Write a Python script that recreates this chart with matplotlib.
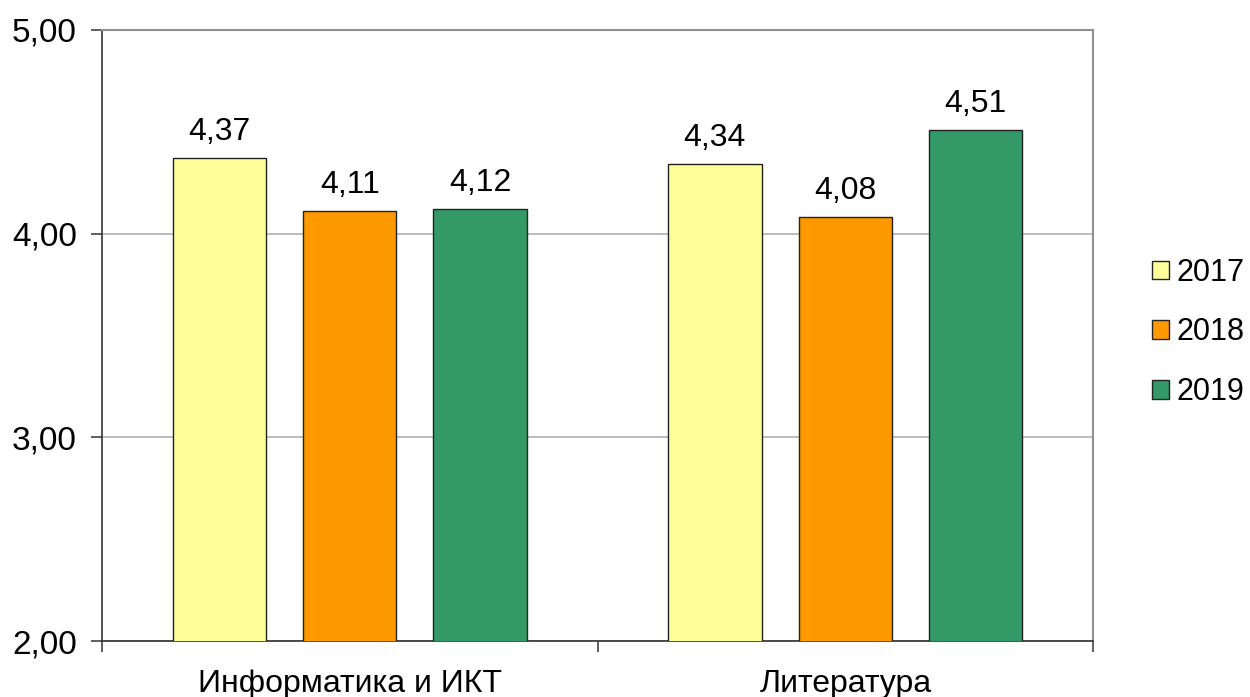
import matplotlib.pyplot as plt
import numpy as np
from matplotlib.patches import Patch

plt.rcParams["font.family"] = ["Liberation Sans", "DejaVu Sans"]

categories = ["Информатика и ИКТ", "Литература"]
years = ["2017", "2018", "2019"]
values_2017 = [4.37, 4.34]
values_2018 = [4.11, 4.08]
values_2019 = [4.12, 4.51]
y_ticks = [2.0, 3.0, 4.0, 5.0]

COLORS = ["#FFFF99", "#FF9900", "#339966"]
FS = 23

fig = plt.figure(figsize=(12.5, 6.97), dpi=100)
ax = fig.add_axes([0.0816, 0.0803, 0.7928, 0.8767])

x = np.arange(len(categories))
width = 0.188
step = 0.263
series = [values_2017, values_2018, values_2019]
for i, (vals, color) in enumerate(zip(series, COLORS)):
    pos = x + (i - 1) * step
    ax.bar(pos, vals, width, color=color, edgecolor="#222222", linewidth=1, zorder=3)
    for px, v in zip(pos, vals):
        ax.annotate(f"{v:.2f}".replace(".", ","), (px, v), xytext=(0, 8),
                    textcoords="offset points", ha="center", va="bottom", fontsize=FS)

ax.set_xlim(-0.5, len(categories) - 0.5)
ax.set_ylim(2, 5)
ax.set_yticks(y_ticks)
ax.set_yticklabels([f"{t:.2f}".replace(".", ",") for t in y_ticks], fontsize=24)
ax.yaxis.grid(True, color="#B0B0B0", linewidth=1.2, zorder=0)

# category labels with separator ticks between groups
ax.set_xticks(np.arange(-0.5, len(categories), 1.0))
ax.set_xticklabels([])
ax.tick_params(axis="x", length=8, width=1.2, color="#444444", direction="out")
ax.set_xticks(x, minor=True)
ax.set_xticklabels(categories, minor=True, fontsize=FS)
ax.tick_params(axis="x", which="minor", length=0, pad=20)
ax.tick_params(axis="y", length=8, width=1.2, color="#444444", pad=10)

for side in ("left", "bottom"):
    ax.spines[side].set_color("#333333")
    ax.spines[side].set_linewidth(1.2)
for side in ("top", "right"):
    ax.spines[side].set_color("#909090")
    ax.spines[side].set_linewidth(1.5)

handles = [Patch(facecolor=c, edgecolor="#222222", label=y) for c, y in zip(COLORS, years)]
fig.legend(handles=handles, loc="center left", bbox_to_anchor=(0.912, 0.523), frameon=False,
           fontsize=22, handlelength=0.55, handleheight=0.55, handletextpad=0.25, labelspacing=0.97,
           borderaxespad=0)

fig.savefig("out.png", dpi=100)
